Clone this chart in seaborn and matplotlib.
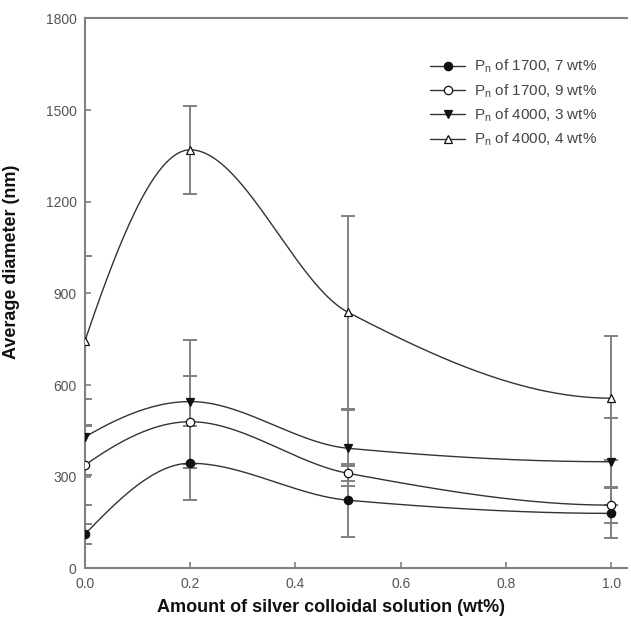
import matplotlib
matplotlib.use("Agg")
import matplotlib.pyplot as plt
import numpy as np
import pandas as pd
import seaborn as sns
from matplotlib.lines import Line2D

# silver colloid loading (wt%)
silver = [0.0, 0.2, 0.5, 1.0]

# average diameter (nm) and error bar half-widths
d_1700_7 = [112, 344, 223, 180]
e_1700_7 = [32, 121, 120, 82]
d_1700_9 = [338, 480, 311, 207]
e_1700_9 = [130, 151, 25, 58]
d_4000_3 = [430, 546, 393, 349]
e_4000_3 = [124, 203, 125, 143]
d_4000_4 = [745, 1370, 838, 557]
e_4000_4 = [278, 145, 316, 203]

labels = [
    r"P$_\mathregular{n}$ of 1700, 7 wt%",
    r"P$_\mathregular{n}$ of 1700, 9 wt%",
    r"P$_\mathregular{n}$ of 4000, 3 wt%",
    r"P$_\mathregular{n}$ of 4000, 4 wt%",
]
markers = ["o", "o", "v", "^"]
fills = ["#111111", "white", "#111111", "white"]

yticks = [0, 300, 600, 900, 1200, 1500, 1800]
xticks = [0.0, 0.2, 0.4, 0.6, 0.8, 1.0]


def pchip(x, y, xs):
    # monotone cubic through the measured points, like the smooth curve in the figure
    x = np.asarray(x, float)
    y = np.asarray(y, float)
    h = np.diff(x)
    delta = np.diff(y) / h
    n = len(x)
    m = np.zeros(n)
    for k in range(1, n - 1):
        if delta[k - 1] * delta[k] > 0:
            w1 = 2 * h[k] + h[k - 1]
            w2 = h[k] + 2 * h[k - 1]
            m[k] = (w1 + w2) / (w1 / delta[k - 1] + w2 / delta[k])
    m[0] = ((2 * h[0] + h[1]) * delta[0] - h[0] * delta[1]) / (h[0] + h[1])
    if np.sign(m[0]) != np.sign(delta[0]):
        m[0] = 0
    m[-1] = ((2 * h[-1] + h[-2]) * delta[-1] - h[-1] * delta[-2]) / (h[-1] + h[-2])
    if np.sign(m[-1]) != np.sign(delta[-1]):
        m[-1] = 0
    idx = np.clip(np.searchsorted(x, xs, side="right") - 1, 0, n - 2)
    t = (xs - x[idx]) / h[idx]
    h00 = 2 * t**3 - 3 * t**2 + 1
    h10 = t**3 - 2 * t**2 + t
    h01 = -2 * t**3 + 3 * t**2
    h11 = t**3 - t**2
    return h00 * y[idx] + h10 * h[idx] * m[idx] + h01 * y[idx + 1] + h11 * h[idx] * m[idx + 1]


sns.set_theme(style="ticks")
plt.rcParams["font.family"] = ["Liberation Sans", "DejaVu Sans"]
plt.rcParams["mathtext.default"] = "regular"

fig = plt.figure(figsize=(6.31, 6.29), dpi=100)
ax = fig.add_axes([0.1347, 0.0964, 0.859, 0.8743])

series = [
    (d_1700_7, e_1700_7),
    (d_1700_9, e_1700_9),
    (d_4000_3, e_4000_3),
    (d_4000_4, e_4000_4),
]

xs = np.linspace(silver[0], silver[-1], 300)
curves = []
for lab, (d, e) in zip(labels, series):
    curves.append(pd.DataFrame({"x": xs, "y": pchip(silver, d, xs), "series": lab}))
df_curve = pd.concat(curves, ignore_index=True)

line_col = "#333333"
bar_col = "#808080"

for (d, e) in series:
    ax.errorbar(silver, d, yerr=e, fmt="none", ecolor=bar_col, elinewidth=1.4,
                capsize=4.7, capthick=1.4, zorder=1)

sns.lineplot(data=df_curve, x="x", y="y", hue="series",
             palette=[line_col] * 4, linewidth=1.0, legend=False, ax=ax, zorder=2)

handles = []
for lab, (d, e), m, fc in zip(labels, series, markers, fills):
    ax.plot(silver, d, linestyle="none", marker=m, markersize=6,
            markerfacecolor=fc, markeredgecolor="#111111", markeredgewidth=0.9, zorder=3)
    handles.append(Line2D([], [], color=line_col, linewidth=1.0, marker=m, markersize=6,
                          markerfacecolor=fc, markeredgecolor="#111111", markeredgewidth=0.9))

ax.set_xlim(0, 1.03)
ax.set_ylim(0, 1800)
ax.set_xticks(xticks)
ax.set_xticklabels([f"{t:.1f}" for t in xticks])
ax.set_yticks(yticks)
ax.tick_params(direction="in", length=4, width=1.2, color="#808080",
               labelsize=10, labelcolor="#555555", pad=6)

for side in ["left", "bottom", "top"]:
    ax.spines[side].set_color("#808080")
    ax.spines[side].set_linewidth(1.5)
ax.spines["right"].set_visible(False)

ax.set_xlabel("Amount of silver colloidal solution (wt%)", fontsize=13,
              fontweight="bold", color="#111111")
ax.set_ylabel("Average diameter (nm)", fontsize=13, fontweight="bold", color="#111111")
ax.xaxis.set_label_coords(0.454, -0.055)
ax.yaxis.set_label_coords(-0.12, 0.557)

ax.legend(handles=handles, labels=labels, loc="upper left",
          bbox_to_anchor=(0.6365, 0.928), frameon=False, fontsize=11,
          handlelength=2.3, handletextpad=0.6, labelspacing=0.45,
          borderpad=0, borderaxespad=0, labelcolor="#444444")

fig.savefig("out.png", dpi=100)
